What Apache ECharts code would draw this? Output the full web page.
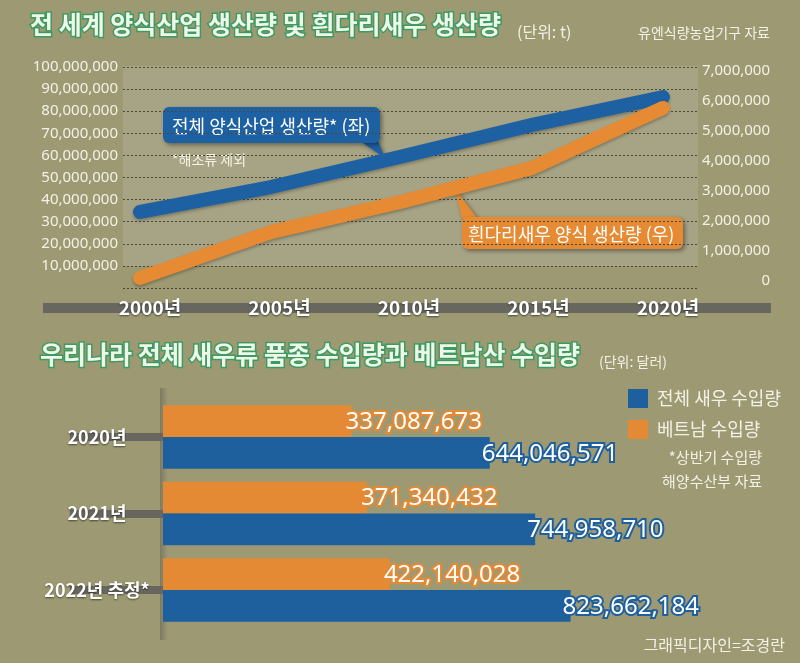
<!DOCTYPE html>
<html><head><meta charset="utf-8">
<script src="https://cdn.jsdelivr.net/npm/echarts@6/dist/echarts.min.js"></script>
<style>html,body{margin:0;padding:0;background:#9d9a73;}#c{width:800px;height:663px;}</style>
</head><body><div id="c"></div>
<script>
// ---- data ----
const years = [2000, 2005, 2010, 2015, 2020];
const yearLabels = ['2000년', '2005년', '2010년', '2015년', '2020년'];
const aquacultureTotal = [34.4e6, 45.7e6, 59.5e6, 73.8e6, 86.4e6];   // left axis (t)
const whitelegShrimp = [0.1e6, 1.63e6, 2.64e6, 3.77e6, 5.77e6];      // right axis (t)
const importYears = ['2020년', '2021년', '2022년 추정*'];
const totalShrimpImports = [644046571, 744958710, 823662184];
const vietnamImports = [337087673, 371340432, 422140028];

// ---- style constants ----
const KR = '"Noto Sans CJK KR","Noto Sans",sans-serif';
const NUM = '"Noto Sans","Noto Sans CJK KR",sans-serif';
const LIGHT = '#f3f1e6';
const BLUE = '#1d61a3';
const ORANGE = '#e68a33';
const BAR_BLUE = '#1e609e';
const BAR_ORANGE = '#e58a34';
const BAR_X_MIN = -82e6;

const fmt = v => Math.round(v).toLocaleString('en-US');

function barRenderer(upper, color, labelShift) {
  return function (params, api) {
    const val = api.value(0), cat = api.value(1);
    const p0 = api.coord([BAR_X_MIN, cat]);
    const p1 = api.coord([val, cat]);
    const band = api.size([0, 1])[1];
    const h = band * 0.415;
    const y0 = upper ? p0[1] - h : p0[1];
    return {
      type: 'group',
      children: [
        { type: 'rect', shape: { x: p0[0], y: y0, width: p1[0] - p0[0], height: h }, style: { fill: color } },
        { type: 'text', x: p1[0] - labelShift, y: y0 + h / 2 + 1, z2: 20,
          style: { text: fmt(val), fill: '#ffffff', stroke: color, lineWidth: 4, strokeFirst: true,
                   fontSize: 24, fontFamily: NUM, align: 'left', verticalAlign: 'middle',
                   shadowColor: 'rgba(0,0,0,0.35)', shadowBlur: 2, shadowOffsetY: 1 } }
      ]
    };
  };
}

const chart = echarts.init(document.getElementById('c'), null, { renderer: 'canvas' });
const titleStyle = { color: '#eef8ea', fontSize: 25, fontWeight: 'bold', fontFamily: KR,
                     textBorderColor: '#3f9a60', textBorderWidth: 3 };
chart.setOption({
  animation: false,
  backgroundColor: '#9d9a73',
  title: [
    { text: '전 세계 양식산업 생산량 및 흰다리새우 생산량', left: 30, top: 12, padding: 0, textStyle: titleStyle },
    { text: '우리나라 전체 새우류 품종 수입량과 베트남산 수입량', left: 40, top: 342, padding: 0, textStyle: titleStyle }
  ],
  legend: {
    data: ['전체 새우 수입량', '베트남 수입량'],
    orient: 'vertical', left: 628, top: 389, padding: 0,
    itemWidth: 20, itemHeight: 19, itemGap: 12, icon: 'rect',
    textStyle: { color: LIGHT, fontSize: 18, fontFamily: KR, padding: [0, 0, 0, 4] }
  },
  grid: [
    { left: 123, top: 67, width: 574, height: 221 },
    { left: 123, top: 71, width: 574, height: 210 },
    { left: 150, top: 200, width: 518, height: 108 },
    { left: 163, top: 398.75, width: 617, height: 229.5 }
  ],
  xAxis: [
    { gridIndex: 0, type: 'value', min: 1999.35, max: 2021.3, show: false },
    { gridIndex: 1, type: 'value', min: 1999.35, max: 2021.3, show: false },
    { gridIndex: 2, type: 'category', data: yearLabels, boundaryGap: false,
      axisLine: { show: false }, axisTick: { show: false }, splitLine: { show: false },
      axisLabel: { margin: 0, verticalAlign: 'middle', color: '#ffffff', fontSize: 19, fontWeight: 'bold', fontFamily: KR,
                   textShadowColor: 'rgba(0,0,0,0.55)', textShadowBlur: 2, textShadowOffsetY: 1 } },
    { gridIndex: 3, type: 'value', min: BAR_X_MIN, max: 1289e6, show: false }
  ],
  yAxis: [
    { gridIndex: 0, type: 'value', min: 0, max: 100e6, interval: 10e6, position: 'left',
      axisLine: { show: false }, axisTick: { show: false },
      axisLabel: { margin: 5, color: LIGHT, fontSize: 15, fontFamily: NUM, formatter: v => v === 0 ? '' : fmt(v) },
      splitLine: { show: true, lineStyle: { color: '#4a4838', width: 1, type: [2, 2] } } },
    { gridIndex: 1, type: 'value', min: 0, max: 7e6, interval: 1e6, position: 'right',
      axisLine: { show: false }, axisTick: { show: false }, splitLine: { show: false },
      axisLabel: { margin: 73, align: 'right', color: LIGHT, fontSize: 15, fontFamily: NUM, formatter: v => fmt(v) } },
    { gridIndex: 2, type: 'value', show: false },
    { gridIndex: 3, type: 'category', data: importYears, inverse: true,
      axisLine: { show: false },
      axisTick: { show: true, alignWithLabel: true, length: 130, lineStyle: { color: '#67675f', width: 8 } },
      axisLabel: { margin: 66, align: 'center', color: '#ffffff', fontSize: 18, fontWeight: 'bold', fontFamily: KR,
                   textShadowColor: 'rgba(0,0,0,0.55)', textShadowBlur: 2, textShadowOffsetY: 1 } }
  ],
  series: [
    { name: '전체 양식산업 생산량', type: 'line', xAxisIndex: 0, yAxisIndex: 0, z: 3,
      data: years.map((y, i) => [y, aquacultureTotal[i]]), symbol: 'none',
      lineStyle: { color: BLUE, width: 14, cap: 'round', join: 'round',
                   shadowColor: 'rgba(0,0,0,0.25)', shadowBlur: 3, shadowOffsetY: 2 } },
    { name: '흰다리새우 양식 생산량', type: 'line', xAxisIndex: 1, yAxisIndex: 1, z: 4,
      data: years.map((y, i) => [y, whitelegShrimp[i]]), symbol: 'none',
      lineStyle: { color: ORANGE, width: 14, cap: 'round', join: 'round',
                   shadowColor: 'rgba(0,0,0,0.25)', shadowBlur: 3, shadowOffsetY: 2 } },
    { name: '베트남 수입량', type: 'custom', xAxisIndex: 3, yAxisIndex: 3, z: 3,
      itemStyle: { color: BAR_ORANGE }, encode: { x: 0, y: 1 },
      data: vietnamImports.map((v, i) => [v, i]), renderItem: barRenderer(true, BAR_ORANGE, 6) },
    { name: '전체 새우 수입량', type: 'custom', xAxisIndex: 3, yAxisIndex: 3, z: 3,
      itemStyle: { color: BAR_BLUE }, encode: { x: 0, y: 1 },
      data: totalShrimpImports.map((v, i) => [v, i]), renderItem: barRenderer(false, BAR_BLUE, 8) }
  ],
  graphic: [
    { type: 'rect', z: -10, shape: { x: 123, y: 66, width: 575, height: 200 }, style: { fill: '#a7a385' } },
    { type: 'rect', z: -5, shape: { x: 43, y: 303, width: 728, height: 10 }, style: { fill: '#67675f' } },
    { type: 'rect', z: -5, shape: { x: 160, y: 388, width: 8, height: 252 },
      style: { fill: new echarts.graphic.LinearGradient(0, 0, 1, 0, [
        { offset: 0, color: 'rgba(120,118,96,0.9)' }, { offset: 1, color: 'rgba(120,118,96,0)' }]) } },
    // blue callout
    { type: 'group', z: 20, children: [
      { type: 'polygon', shape: { points: [[360, 141], [378, 141], [385, 158]] },
        style: { fill: BLUE, shadowColor: 'rgba(0,0,0,0.4)', shadowBlur: 4, shadowOffsetX: 2, shadowOffsetY: 2 } },
      { type: 'rect', shape: { x: 163, y: 107, width: 217, height: 36, r: 6 },
        style: { fill: BLUE, shadowColor: 'rgba(0,0,0,0.4)', shadowBlur: 4, shadowOffsetX: 2, shadowOffsetY: 2 } },
      { type: 'text', x: 172, y: 126, style: { text: '전체 양식산업 생산량* (좌)', fill: '#ffffff', fontSize: 18, fontFamily: KR, verticalAlign: 'middle' } }
    ] },
    // orange callout
    { type: 'group', z: 20, children: [
      { type: 'polygon', shape: { points: [[455, 189], [462, 219], [478, 219]] },
        style: { fill: ORANGE, shadowColor: 'rgba(0,0,0,0.4)', shadowBlur: 4, shadowOffsetX: 2, shadowOffsetY: 2 } },
      { type: 'rect', shape: { x: 462, y: 217, width: 221, height: 32, r: 6 },
        style: { fill: ORANGE, shadowColor: 'rgba(0,0,0,0.4)', shadowBlur: 4, shadowOffsetX: 2, shadowOffsetY: 2 } },
      { type: 'text', x: 468, y: 234, style: { text: '흰다리새우 양식 생산량 (우)', fill: '#ffffff', fontSize: 18, fontFamily: KR, verticalAlign: 'middle' } }
    ] },
    { type: 'text', x: 172, y: 160, style: { text: '*해조류 제외', fill: LIGHT, fontSize: 14, fontFamily: KR, verticalAlign: 'middle' } },
    { type: 'text', x: 517, y: 32, style: { text: '(단위: t)', fill: LIGHT, fontSize: 16, fontFamily: KR, verticalAlign: 'middle' } },
    { type: 'text', x: 770, y: 33, style: { text: '유엔식량농업기구 자료', fill: LIGHT, fontSize: 14, fontFamily: KR, align: 'right', verticalAlign: 'middle' } },
    { type: 'text', x: 599, y: 362, style: { text: '(단위: 달러)', fill: LIGHT, fontSize: 14, fontFamily: KR, verticalAlign: 'middle' } },
    { type: 'text', x: 762, y: 457, style: { text: '*상반기 수입량', fill: LIGHT, fontSize: 15, fontFamily: KR, align: 'right', verticalAlign: 'middle' } },
    { type: 'text', x: 762, y: 481, style: { text: '해양수산부 자료', fill: LIGHT, fontSize: 15, fontFamily: KR, align: 'right', verticalAlign: 'middle' } },
    { type: 'text', x: 785, y: 645, style: { text: '그래픽디자인=조경란', fill: LIGHT, fontSize: 16, fontFamily: KR, align: 'right', verticalAlign: 'middle' } }
  ]
});
</script></body></html>
